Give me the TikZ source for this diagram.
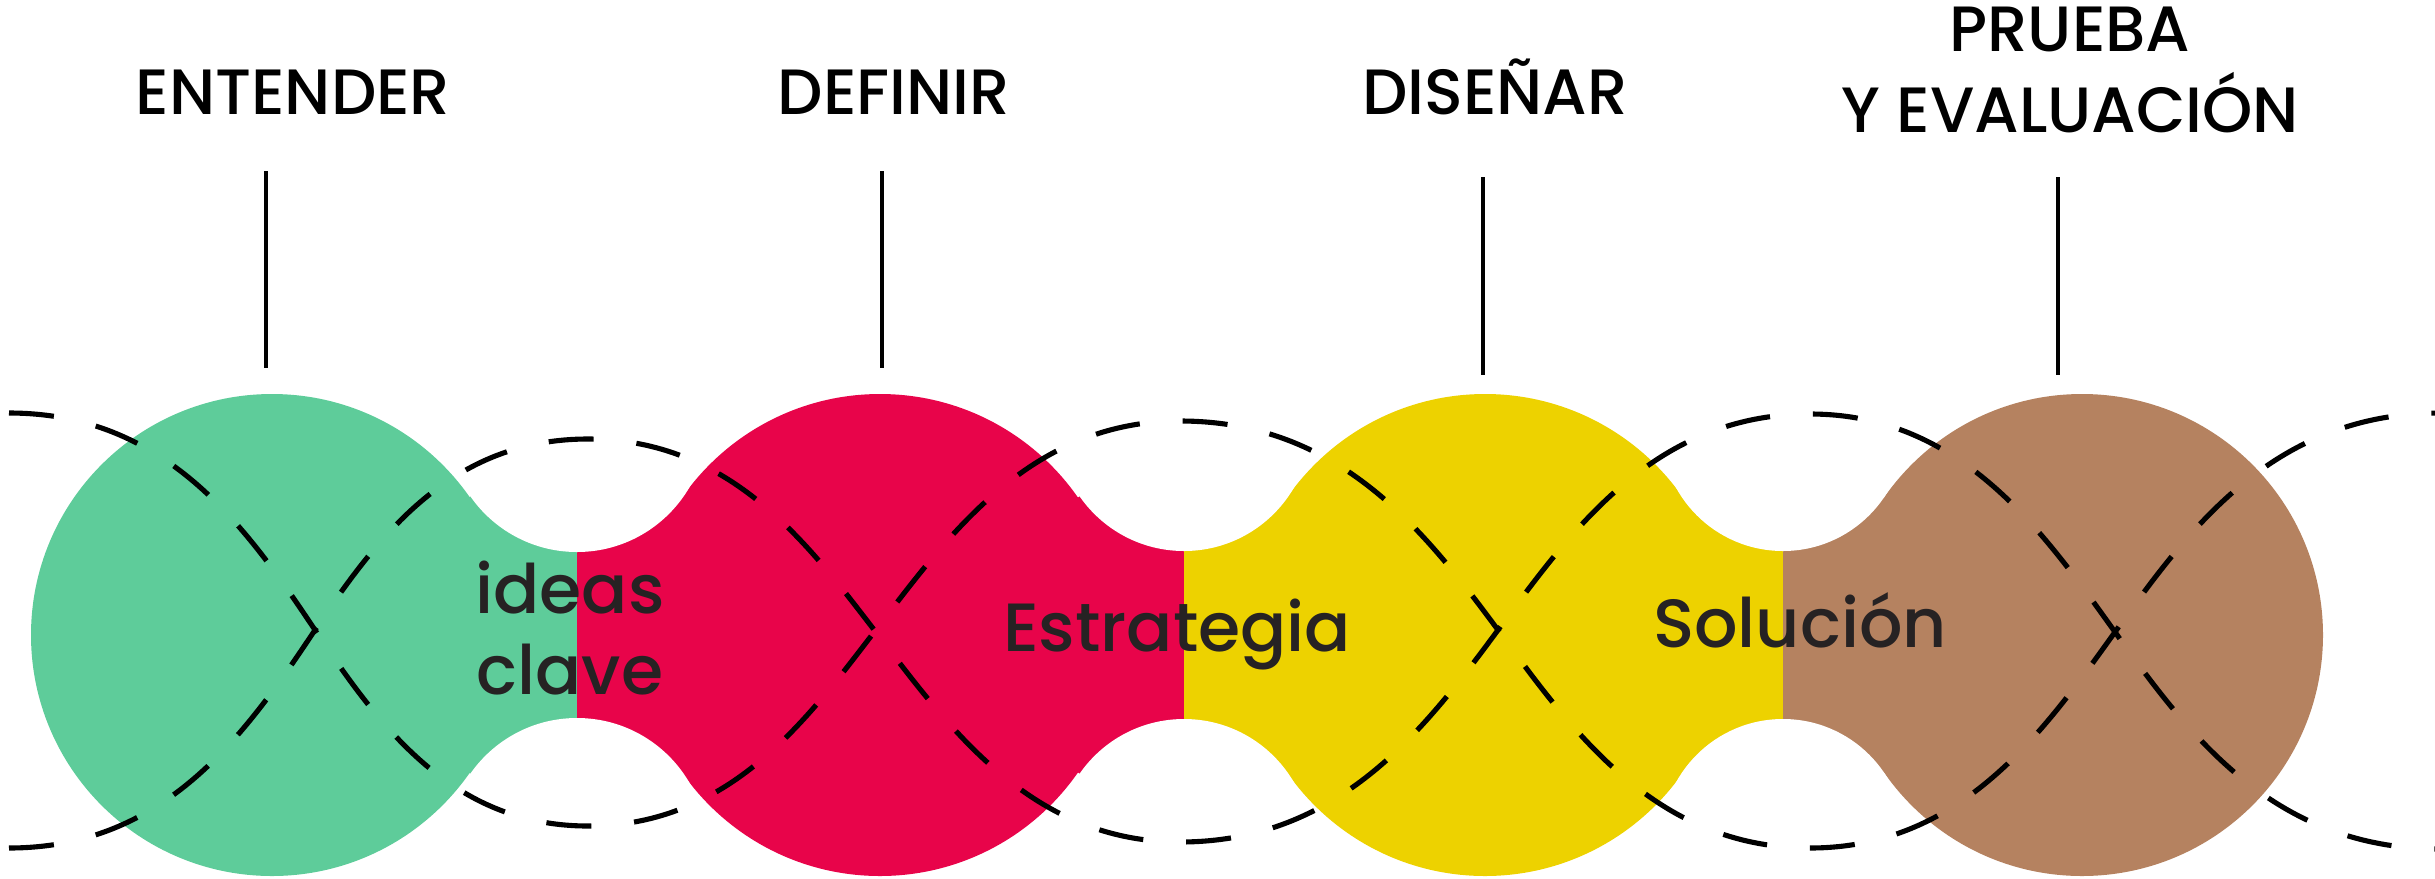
\documentclass[tikz,border=0pt]{standalone}
\usepackage{fontspec}
\setmainfont{Poppins}
\newfontfamily\headfont{Poppins}[UprightFont=* Medium]
\definecolor{entgreen}{HTML}{5ECC9A}
\definecolor{defred}{HTML}{E8044A}
\definecolor{disyellow}{HTML}{EDD200}
\definecolor{prubrown}{HTML}{B58260}
\definecolor{lbltext}{HTML}{262223}
\tikzset{
  headlbl/.style={font=\headfont\fontsize{18.2}{23}\selectfont, inner sep=0pt},
  steplbl/.style={font=\headfont\fontsize{19.4}{22.8}\selectfont, text=lbltext, inner sep=0pt},
  stem/.style={line width=0.9pt},
  wave/.style={line width=1.45pt, dash pattern=on 0.45cm off 0.43cm},
}
\begin{document}
\begin{tikzpicture}[x=0.01cm, y=-0.01cm]
\useasboundingbox (0,0) rectangle (2435,878);
\clip (0,0) rectangle (2435,878);
\fill[entgreen] (272,635) circle (241);
\fill[entgreen] (272,635) -- (577,422) -- (577,848) -- cycle;
\fill[defred] (880,635) circle (241);
\fill[defred] (880,635) -- (577,422) -- (577,848) -- cycle;
\fill[defred] (880,635) -- (1184,424) -- (1184,846) -- cycle;
\fill[disyellow] (1485,635) circle (241);
\fill[disyellow] (1485,635) -- (1184,424) -- (1184,846) -- cycle;
\fill[disyellow] (1485,635) -- (1783,429) -- (1783,841) -- cycle;
\fill[prubrown] (2082,635) circle (241);
\fill[prubrown] (2082,635) -- (1783,429) -- (1783,841) -- cycle;
\fill[white] (577,422) circle (130) (577,848) circle (130);
\fill[white] (1184,424) circle (127) (1184,846) circle (127);
\fill[white] (1783,429) circle (122) (1783,841) circle (122);
\draw[wave] (9,413) .. controls (165,413) and (245,525) .. (315,630)
  .. controls (379,726) and (452,826) .. (588,826)
  .. controls (731,826) and (808,718) .. (875,631)
  .. controls (946,539) and (1028,421) .. (1180,421)
  .. controls (1339,421) and (1424,530) .. (1498,630)
  .. controls (1571,729) and (1654,848) .. (1810,848)
  .. controls (1962,848) and (2044,731) .. (2115,632)
  .. controls (2188,530) and (2273,413) .. (2440,413);
\draw[wave] (9,848) .. controls (165,848) and (245,735) .. (315,630)
  .. controls (379,534) and (452,439) .. (588,439)
  .. controls (731,439) and (808,544) .. (875,631)
  .. controls (946,723) and (1028,842) .. (1180,842)
  .. controls (1339,842) and (1424,730) .. (1498,630)
  .. controls (1571,531) and (1654,414) .. (1810,414)
  .. controls (1962,414) and (2044,533) .. (2115,632)
  .. controls (2188,734) and (2273,849) .. (2440,849);
\node[headlbl, anchor=base] (entender) at (293,114) {ENTENDER};
\node[headlbl, anchor=base] (definir) at (894,114) {DEFINIR};
\node[headlbl, anchor=base] (disenar) at (1495,114) {DISEÑAR};
\node[headlbl, align=center] (prueba) at (2070,70) {PRUEBA\\Y EVALUACIÓN};
\coordinate (s1a) at (266,171);
\coordinate (s1b) at (266,368);
\coordinate (s2a) at (882,171);
\coordinate (s2b) at (882,368);
\coordinate (s3a) at (1483,177);
\coordinate (s3b) at (1483,375);
\coordinate (s4a) at (2058,177);
\coordinate (s4b) at (2058,375);
\draw[stem] (s1a) -- (s1b);
\draw[stem] (s2a) -- (s2b);
\draw[stem] (s3a) -- (s3b);
\draw[stem] (s4a) -- (s4b);
\node[steplbl, align=center] (ideas) at (570,628) {ideas\\clave};
\node[steplbl, anchor=base] (estrategia) at (1177,651) {Estrategia};
\node[steplbl, anchor=base] (solucion) at (1800,647) {Solución};
\end{tikzpicture}
\end{document}
